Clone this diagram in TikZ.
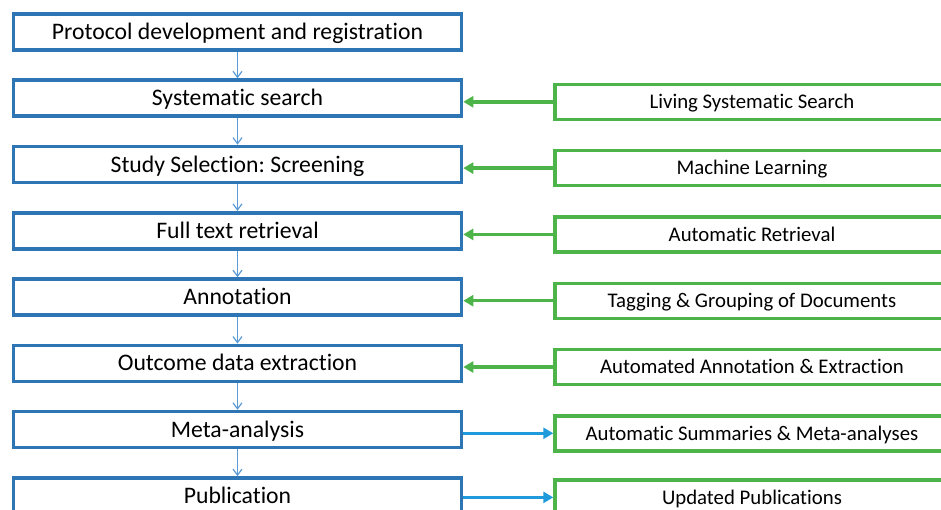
\documentclass[tikz,border=0pt]{standalone}
\usepackage{fontspec}
\setmainfont{Carlito}[Ligatures=NoCommon]
\usetikzlibrary{arrows.meta}
\definecolor{stageblue}{HTML}{2E75B6}
\definecolor{linkblue}{HTML}{5B9BD5}
\definecolor{pushblue}{HTML}{1F9BDB}
\definecolor{toolgreen}{HTML}{4DB449}

\begin{document}
\frenchspacing
\begin{tikzpicture}[x=1pt,y=-1pt,
    stage/.style={draw=stageblue,line width=3.6pt,minimum width=448pt,minimum height=36pt,inner sep=0pt,text height=15.3pt,text depth=0pt,font=\fontsize{23.7}{28}\selectfont},
    tool/.style={draw=toolgreen,line width=3.4pt,minimum width=394pt,minimum height=35pt,inner sep=0pt,text height=13.4pt,text depth=0pt,font=\fontsize{20.8}{25}\selectfont},
    down/.style={draw=linkblue,line width=1.2pt,-{Straight Barb[length=6pt,width=9pt]}},
    feed/.style={draw=toolgreen,line width=3.4pt,-{Triangle[length=10pt,width=11pt]}},
    push/.style={draw=pushblue,line width=3.4pt,-{Triangle[length=10pt,width=11pt]}}]
      \useasboundingbox (0,0) rectangle (941,509);
      \clip (0,0) rectangle (941,509);
      \node[stage] (proto) at (237.5,31.8) {Protocol development and registration};
      \node[stage] (search) at (237.5,98.1) {Systematic search};
      \node[stage] (screen) at (237.5,164.4) {Study Selection: Screening};
      \node[stage] (fulltext) at (237.5,230.7) {Full text retrieval};
      \node[stage] (annot) at (237.5,297) {Annotation};
      \node[stage] (extract) at (237.5,363.3) {Outcome data extraction};
      \node[stage] (meta) at (237.5,429.6) {Meta-analysis};
      \node[stage] (pub) at (237.5,495.9) {Publication};
      \node[tool] (living) at (752,101.8) {Living Systematic Search};
      \node[tool] (ml) at (752,168.1) {Machine Learning};
      \node[tool] (autoret) at (752,234.4) {Automatic Retrieval};
      \node[tool] (tagging) at (752,300.7) {Tagging \& Grouping of Documents};
      \node[tool] (autoext) at (752,367) {Automated Annotation \& Extraction};
      \node[tool] (summ) at (752,433.3) {Automatic Summaries \& Meta-analyses};
      \node[tool] (updated) at (752,497.4) {Updated Publications};
      \draw[down] (proto) -- (search);
      \draw[down] (search) -- (screen);
      \draw[down] (screen) -- (fulltext);
      \draw[down] (fulltext) -- (annot);
      \draw[down] (annot) -- (extract);
      \draw[down] (extract) -- (meta);
      \draw[down] (meta) -- (pub);
      \draw[feed] (living) -- (living -| search.east);
      \draw[feed] (ml) -- (ml -| screen.east);
      \draw[feed] (autoret) -- (autoret -| fulltext.east);
      \draw[feed] (tagging) -- (tagging -| annot.east);
      \draw[feed] (autoext) -- (autoext -| extract.east);
      \draw[push] (meta.east |- summ) -- (summ);
      \draw[push] (pub.east |- updated) -- (updated);
    \end{tikzpicture}
\end{document}
